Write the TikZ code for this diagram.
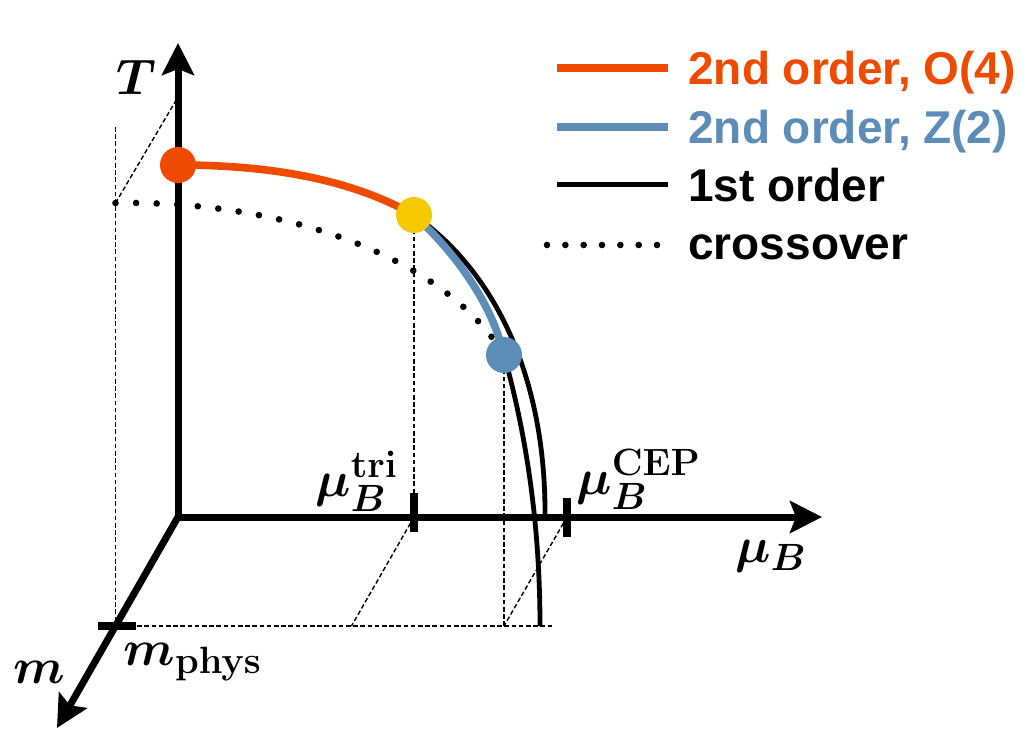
\RequirePackage{fix-cm}
\documentclass[tikz,border=0pt]{standalone}
\usepackage{fontspec}
\setsansfont{Liberation Sans}
\usetikzlibrary{arrows.meta}
\DeclareMathSizes{25}{25}{19}{15}
\definecolor{orC}{HTML}{EE4A00}
\definecolor{blC}{HTML}{5B8DB8}
\definecolor{yeC}{HTML}{F5C800}
\begin{document}
\begin{tikzpicture}[x=0.5pt,y=-0.5pt,
  axis/.style={line width=3.5pt, -{Stealth[length=16pt,width=16pt,inset=3pt]}},
  guide/.style={line width=0.7pt, dash pattern=on 2.3pt off 1.3pt},
  xover/.style={line width=3.3pt, line cap=round, dash pattern=on 0pt off 10.3pt},
  firstord/.style={line width=2.4pt},
  secO/.style={line width=3.8pt, orC},
  secZ/.style={line width=3.8pt, blC},
  tickmark/.style={line width=4pt},
  pdot/.style={circle, minimum size=18pt, inner sep=0pt},
  lab/.style={inner sep=0pt, anchor=base west, font=\fontsize{25}{29}\selectfont\boldmath},
  leg/.style={inner sep=0pt, anchor=base west, font=\sffamily\bfseries\fontsize{23}{27}\selectfont}
]
\useasboundingbox (0,0) rectangle (1032,732);
\coordinate (O) at (178,517);
\coordinate (Ttip) at (178,43);
\coordinate (Mtip) at (822,517);
\coordinate (mtip) at (57,728);
\coordinate (pR) at (178,165);
\coordinate (pY) at (414,215);
\coordinate (pB) at (504,355);
\coordinate (xs) at (115.5,203);
\coordinate (xT) at (178,97);
\coordinate (vtop) at (115.5,127);
\coordinate (mph) at (115.5,626);
\coordinate (tri) at (414,517);
\coordinate (cep) at (567,517);
\coordinate (triP) at (351.5,626);
\coordinate (cepP) at (504,626);
\coordinate (hEnd) at (552,626);
\coordinate (oEnd) at (545,517);
\coordinate (iEnd) at (540,626);
% guide lines
\draw[guide] (vtop) -- (mph);
\draw[guide] (xs) -- (xT);
\draw[guide] (mph) -- (hEnd);
\draw[guide] (pY) -- (tri);
\draw[guide] (tri) -- (triP);
\draw[guide] (pB) -- (cepP);
\draw[guide] (cep) -- (cepP);
% crossover
\draw[xover] (xs) .. controls (300,200) and (450,265) .. (pB);
% axes
\draw[axis] (O) -- (Ttip);
\draw[axis] (O) -- (Mtip);
\draw[axis] (O) -- (mtip);
% transition lines
\draw[firstord] (pY) .. controls (500,275) and (546,385) .. (oEnd);
\draw[firstord] (pB) .. controls (525,430) and (540,520) .. (iEnd);
\draw[secZ] (pY) .. controls (445,243) and (490,295) .. (pB);
\draw[secO] (pR) .. controls (300,165) and (370,190) .. (pY);
% ticks
\draw[tickmark] ([yshift=12pt]tri) -- ([yshift=-7.5pt]tri);
\draw[tickmark] ([yshift=9.5pt]cep) -- ([yshift=-10pt]cep);
\draw[tickmark] ([xshift=-8.75pt]mph) -- ([xshift=10.25pt]mph);
% points
\node[pdot, fill=orC] (red) at (pR) {};
\node[pdot, fill=yeC] (yel) at (pY) {};
\node[pdot, fill=blC] (blu) at (pB) {};
% labels
\node[lab] (Tl) at (116,95) {$T$};
\node[lab] (triL) at (315,496) {$\mu_B^{\mathbf{tri}}$};
\node[lab] (cepL) at (576,494) {$\mu_B^{\mathbf{CEP}}$};
\node[lab] (muL) at (735,562) {$\mu_B$};
\node[lab] (mL) at (13,683) {$m$};
\node[lab] (mphL) at (123,665) {$m_{\mathbf{phys}}$};
% legend
\coordinate (l1a) at (557,68); \coordinate (l1b) at (668,68);
\coordinate (l2a) at (557,127); \coordinate (l2b) at (668,127);
\coordinate (l3a) at (557,185); \coordinate (l3b) at (668,185);
\coordinate (l4a) at (547,245); \coordinate (l4b) at (657.5,245);
\draw[line width=4pt, orC] (l1a) -- (l1b);
\draw[line width=4pt, blC] (l2a) -- (l2b);
\draw[line width=2.5pt] (l3a) -- (l3b);
\draw[xover, dash pattern=on 0pt off 9.1667pt] (l4a) -- (l4b);
\node[leg, text=orC] (t1) at (688,85) {2nd order, O(4)};
\node[leg, text=blC] (t2) at (688,144) {2nd order, Z(2)};
\node[leg] (t3) at (688,202) {1st order};
\node[leg] (t4) at (688,260) {crossover};
\end{tikzpicture}
\end{document}
